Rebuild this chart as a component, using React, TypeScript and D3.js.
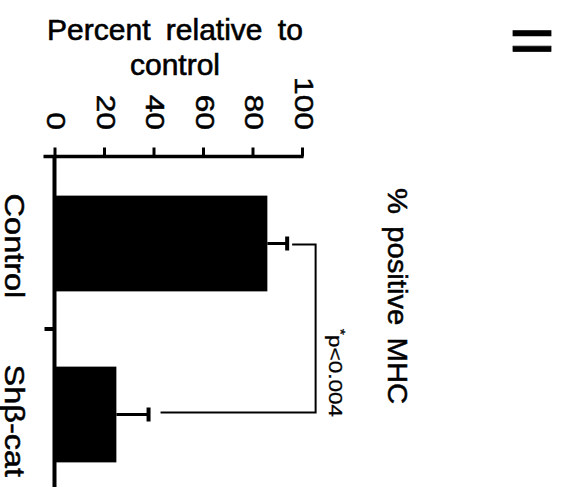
import React, { useEffect, useRef } from 'react';
import * as d3 from 'd3';

// chart values
const categories = ['Control', 'Shβ-cat'];
const means = [86, 25];
const errors = [8, 13];
const valueTicks = [0, 20, 40, 60, 80, 100];
const axisTitle = ['Percent relative to', 'control'];
const chartTitle = '% positive MHC';
const panelLabel = 'II';
const sigLabel = 'p<0.004';
const bracketLevel = 105.5;

const FONT = '"Liberation Sans", Arial, Helvetica, sans-serif';

const App = () => {
    const svgRef = useRef(null);

    useEffect(() => {
        const W = 563;
        const H = 487;
        const svg = d3.select(svgRef.current);
        svg.selectAll('*').remove();
        svg.attr('width', W).attr('height', H).style('font-family', FONT);
        svg.append('rect').attr('width', W).attr('height', H).attr('fill', '#fff');

        const axisY = 156.5;

        // value runs left -> right, categories top -> bottom (figure is turned on its side)
        const x = d3.scaleLinear().domain([0, 100]).range([54.5, 302]);
        const y = d3.scaleBand()
            .domain(categories)
            .range([158, 500])
            .paddingInner(0.44)
            .paddingOuter(0.22);

        const rows = categories.map((c, i) => ({ c, m: means[i], e: errors[i] }));
        const yc = (c) => y(c) + y.bandwidth() / 2;

        // bars
        svg.selectAll('.bar')
            .data(rows)
            .enter().append('rect')
            .attr('class', 'bar')
            .attr('x', x(0))
            .attr('y', d => y(d.c))
            .attr('width', d => x(d.m) - x(0))
            .attr('height', y.bandwidth())
            .attr('fill', '#000');

        // error bars
        const err = svg.selectAll('.err').data(rows).enter().append('g').attr('class', 'err');
        err.append('line')
            .attr('x1', d => x(d.m)).attr('x2', d => x(d.m + d.e))
            .attr('y1', d => yc(d.c)).attr('y2', d => yc(d.c))
            .attr('stroke', '#000').attr('stroke-width', 3);
        err.append('line')
            .attr('x1', d => x(d.m + d.e)).attr('x2', d => x(d.m + d.e))
            .attr('y1', d => yc(d.c) - 7).attr('y2', d => yc(d.c) + 7)
            .attr('stroke', '#000').attr('stroke-width', 4);

        // significance bracket
        const a = rows[0];
        const b = rows[1];
        svg.append('path')
            .attr('d', `M${x(a.m + a.e) + 5},${yc(a.c) + 1}H${x(bracketLevel)}V${yc(b.c) - 2}H${x(b.m + b.e) + 12}`)
            .attr('fill', 'none')
            .attr('stroke', '#000')
            .attr('stroke-width', 2);

        const sig = svg.append('text')
            .attr('transform', `translate(${x(bracketLevel) + 13},${yc(b.c) + 2.5}) rotate(90) scale(1.25,1)`)
            .attr('text-anchor', 'end')
            .attr('font-size', 18)
            .attr('fill', '#000')
            .attr('stroke', '#000').attr('stroke-width', 0.3);
        sig.append('tspan').attr('font-size', 13).attr('dy', -7).text('*');
        sig.append('tspan').attr('dy', 7).text(sigLabel);

        // value axis
        const xAxis = svg.append('g')
            .attr('transform', `translate(0,${axisY})`)
            .call(d3.axisTop(x).tickValues(valueTicks).tickSize(9).tickSizeOuter(0));
        xAxis.attr('font-family', FONT).attr('font-size', 26);
        xAxis.select('.domain').remove();
        xAxis.append('line')
            .attr('x1', x(0) - 11).attr('x2', x(100) + 1.5)
            .attr('stroke', '#000').attr('stroke-width', 3.5);
        xAxis.selectAll('.tick line').attr('stroke', '#000').attr('stroke-width', 3);
        xAxis.selectAll('.tick text')
            .attr('x', 0).attr('y', 0).attr('dy', 0)
            .attr('fill', '#000')
            .attr('stroke', '#000').attr('stroke-width', 0.5)
            .attr('text-anchor', 'end')
            .attr('transform', `translate(-8,${130 - axisY}) rotate(90) scale(1.22,1)`);

        // category axis
        svg.append('line')
            .attr('x1', x(0)).attr('x2', x(0))
            .attr('y1', axisY - 1.5).attr('y2', H)
            .attr('stroke', '#000').attr('stroke-width', 4);
        const yb = y(categories[0]) + y.bandwidth() + (y.step() - y.bandwidth()) / 2;
        svg.append('line')
            .attr('x1', x(0) - 10).attr('x2', x(0))
            .attr('y1', yb).attr('y2', yb)
            .attr('stroke', '#000').attr('stroke-width', 4);
        svg.selectAll('.cat')
            .data(categories)
            .enter().append('text')
            .attr('class', 'cat')
            .attr('transform', d => `translate(5,${y(d) - 2}) rotate(90) scale(1.16,1)`)
            .attr('font-size', 28)
            .attr('fill', '#000')
            .attr('stroke', '#000').attr('stroke-width', 0.5)
            .text(d => d);

        // axis title (upright)
        svg.selectAll('.atitle')
            .data(axisTitle)
            .enter().append('text')
            .attr('class', 'atitle')
            .attr('x', 175)
            .attr('y', (d, i) => 40 + i * 35)
            .attr('text-anchor', 'middle')
            .attr('font-size', 30)
            .attr('word-spacing', 7)
            .attr('fill', '#000')
            .attr('stroke', '#000').attr('stroke-width', 0.6)
            .text(d => d);

        // chart title
        svg.append('text')
            .attr('transform', 'translate(388,296) rotate(90) scale(1.08,1)')
            .attr('text-anchor', 'middle')
            .attr('font-size', 27)
            .attr('word-spacing', 4)
            .attr('fill', '#000')
            .attr('stroke', '#000').attr('stroke-width', 0.5)
            .text(chartTitle);

        // panel label
        svg.append('text')
            .attr('transform', 'translate(513,41) rotate(90)')
            .attr('text-anchor', 'middle')
            .attr('font-size', 56)
            .attr('fill', '#000')
            .attr('stroke', '#000').attr('stroke-width', 0.8)
            .text(panelLabel);
    }, []);

    return (
        <svg ref={svgRef} style={{ position: 'absolute', left: 0, top: 0 }}></svg>
    );
};

export default App;
